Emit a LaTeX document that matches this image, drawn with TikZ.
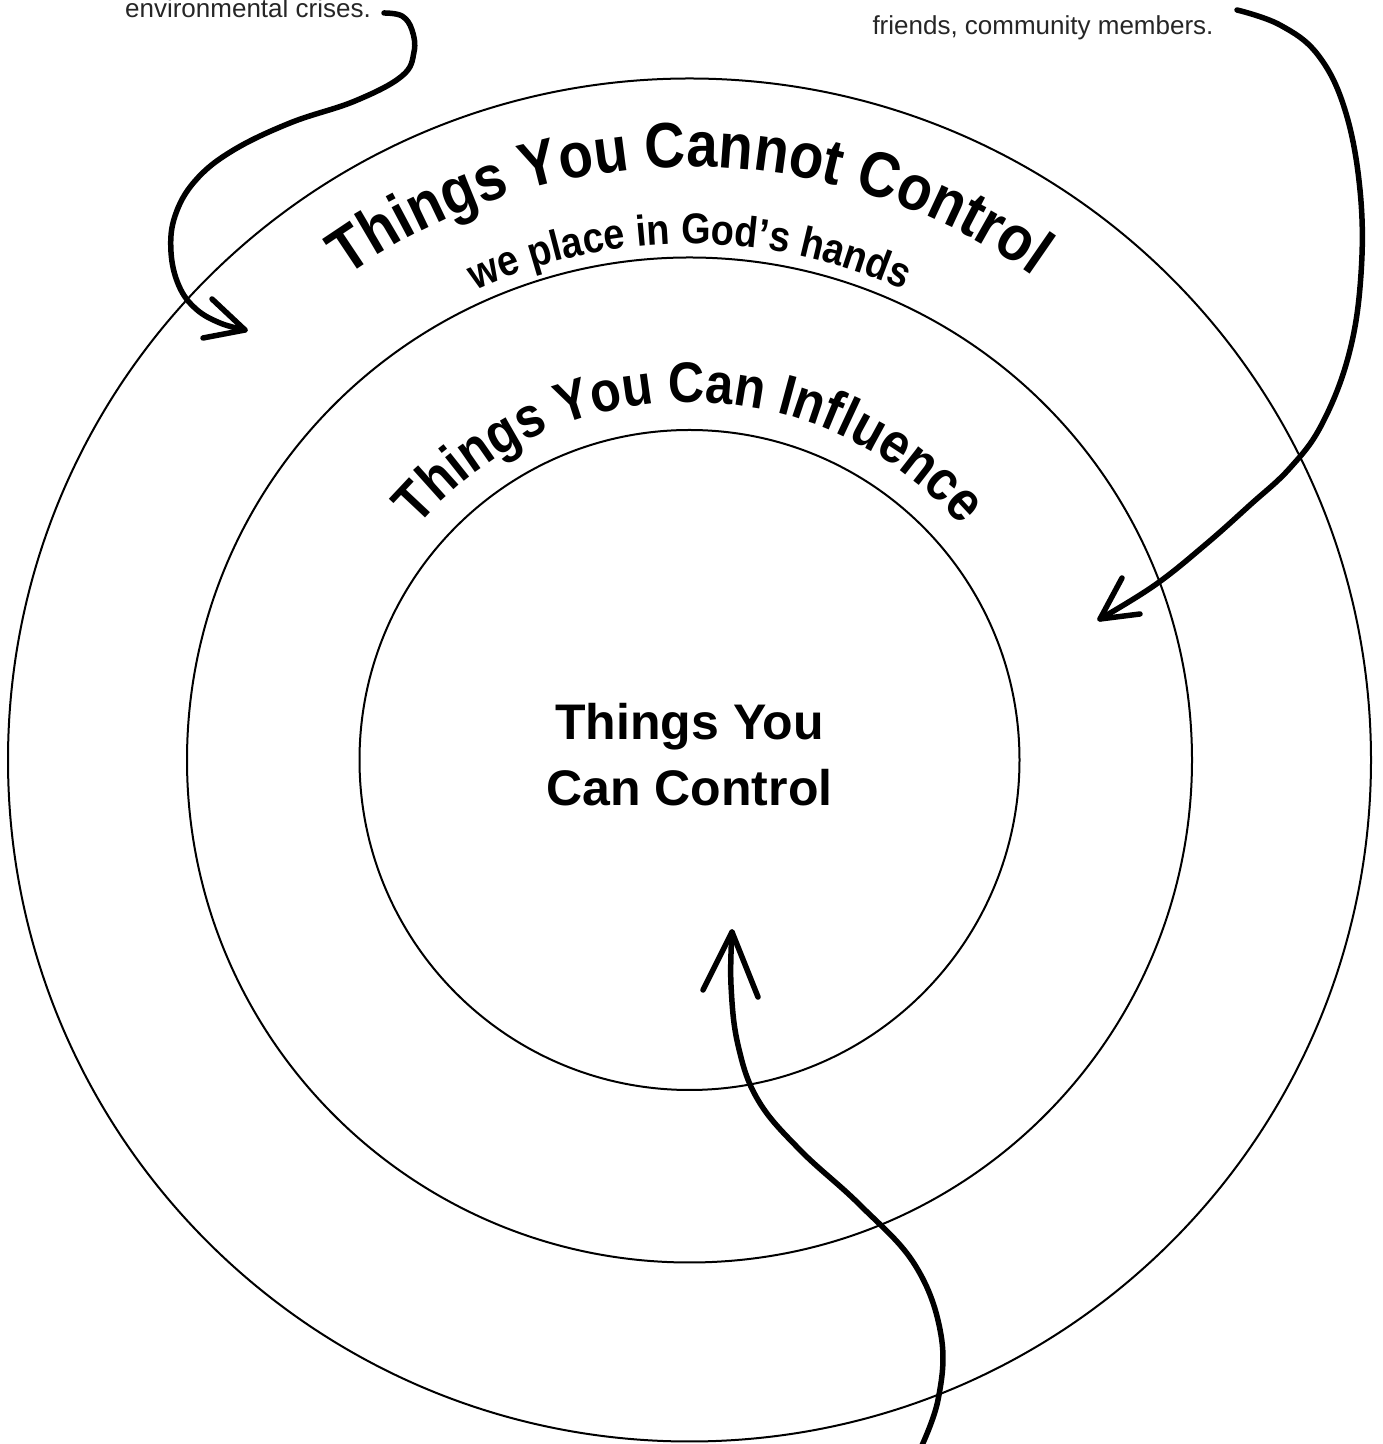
\documentclass[tikz,border=0pt]{standalone}
\usepackage{fontspec}
\setmainfont{Liberation Sans}
\newfontfamily\condfont[FakeStretch=0.88]{Liberation Sans}
\usetikzlibrary{decorations.text,calc}
\begin{document}
\begin{tikzpicture}[x=1pt,y=1pt,
  ring/.style={line width=2pt},
  hand/.style={line width=5.5pt,line cap=round,line join=round},
  note/.style={font=\fontsize{26}{31}\selectfont, text=black!85, inner sep=0pt}]
\useasboundingbox (0,0) rectangle (1383,1444);
\coordinate (C) at (689.5,684);
\draw[ring] (C) circle[radius=681.5];
\draw[ring] (C) circle[radius=502.5];
\draw[ring] (C) circle[radius=330];

% curved titles
\path[decorate,decoration={text along path,text align=center,
  text={|\condfont\bfseries\fontsize{64}{68}\selectfont|Things You Cannot Control}}]
  ($(C)+(180:593)$) arc[start angle=180,end angle=0,radius=593];
\path[decorate,decoration={text along path,text align=center,
  text={|\condfont\bfseries\fontsize{43}{46}\selectfont|we place in God’s hands}}]
  ($(C)+(180:516)$) arc[start angle=180,end angle=0,radius=516];
\path[decorate,decoration={text along path,text align=center,
  text={|\condfont\bfseries\fontsize{57}{60}\selectfont|Things You Can Influence}}]
  ($(C)+(180:358)$) arc[start angle=180,end angle=0,radius=358];

% centre label
\node[font=\bfseries\fontsize{50}{66}\selectfont, align=center] (ctrl) at (689.5,689) {Things You\\Can Control};

% notes
\node[note, anchor=base east] (envtext) at (371,1426) {environmental crises.};
\node[note, anchor=base] (friends) at (1043,1409) {friends, community members.};

% arrow 1
\coordinate (a1s) at (384,1431);
\coordinate (a1t) at (245,1114);
\draw[hand] plot[smooth,tension=0.65] coordinates {(a1s) (402,1428) (412,1414) (414,1392) (402,1368) (355,1343) (290,1321) (232,1293) (195,1263) (175,1228) (171,1192) (179,1158) (196,1135) (220,1121) (a1t)};
\draw[hand] (203,1106) -- (a1t) -- (212,1145);

% arrow 2
\coordinate (a2s) at (1237,1434);
\coordinate (a2t) at (1100,825);
\draw[hand] plot[smooth,tension=0.65] coordinates {(a2s) (1280,1419) (1318,1389) (1345,1334) (1360,1254) (1361,1170) (1349,1090) (1322,1020) (1290,976) (1250,939) (1205,899) (1155,859) (a2t)};
\draw[hand] (1122,866) -- (a2t) -- (1140,830);

% arrow 3
\coordinate (a3s) at (918,-10);
\coordinate (a3t) at (732,512);
\draw[hand] plot[smooth,tension=0.65] coordinates {(a3s) (938,44) (941,109) (915,179) (860,239) (800,294) (758,344) (738,399) (731,459) (a3t)};
\draw[hand] (703,454) -- (a3t) -- (758,447);
\end{tikzpicture}
\end{document}
